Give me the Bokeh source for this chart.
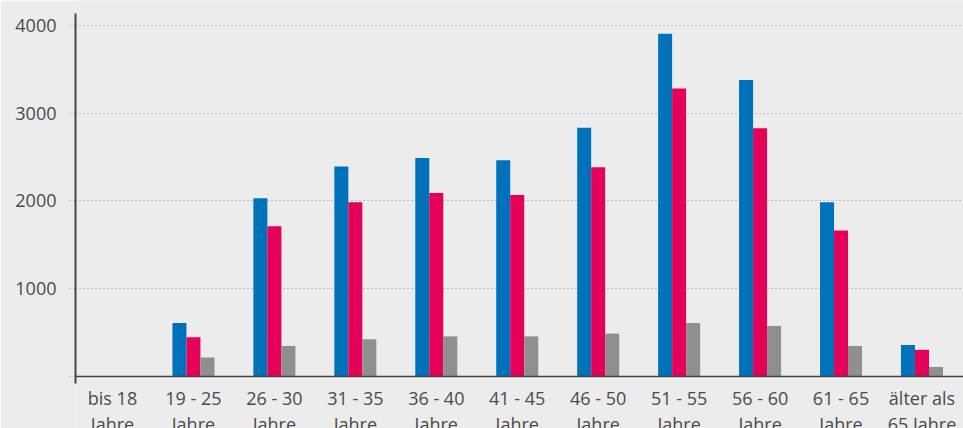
import numpy as np
from bokeh.plotting import figure
from bokeh.models import ColumnDataSource, FixedTicker, Range1d, LinearAxis
from bokeh.transform import dodge
from bokeh.embed import file_html
from bokeh.resources import INLINE

categories = ["bis 18\nJahre", "19 - 25\nJahre", "26 - 30\nJahre", "31 - 35\nJahre",
              "36 - 40\nJahre", "41 - 45\nJahre", "46 - 50\nJahre", "51 - 55\nJahre",
              "56 - 60\nJahre", "61 - 65\nJahre", "älter als\n65 Jahre"]
series_blue = [0, 609, 2030, 2393, 2487, 2463, 2833, 3902, 3378, 1985, 359]
series_pink = [0, 446, 1710, 1985, 2090, 2067, 2382, 3280, 2826, 1664, 304]
series_gray = [0, 217, 348, 424, 457, 457, 489, 609, 576, 348, 109]
y_ticks = [0, 1000, 2000, 3000, 4000]
y_tick_labels = ["", "1000", "2000", "3000", "4000"]

BG = "#ececec"
TXT = "#4a4a4a"
GRID = "#8f8f8f"
BAR_W = 0.173

idx = list(range(len(categories)))
src = ColumnDataSource(dict(x=idx, blue=series_blue, pink=series_pink, gray=series_gray))

p = figure(width=963, height=428, output_backend="svg", toolbar_location=None,
           x_range=Range1d(-0.457, 10.513), y_range=Range1d(-592, 4282),
           x_axis_location=None, y_axis_location=None,
           min_border_left=75, min_border_right=0, min_border_top=0, min_border_bottom=0)
p.background_fill_color = BG
p.border_fill_color = BG
p.outline_line_color = None

p.vbar(x=dodge("x", -BAR_W, range=p.x_range), top="blue", width=BAR_W, source=src,
       fill_color="#0072bc", line_color=None)
p.vbar(x=dodge("x", 0, range=p.x_range), top="pink", width=BAR_W, source=src,
       fill_color="#e5005a", line_color=None)
p.vbar(x=dodge("x", BAR_W, range=p.x_range), top="gray", width=BAR_W, source=src,
       fill_color="#8f8f8f", line_color=None)

yaxis = LinearAxis(bounds=(-80, 4134))
yaxis.ticker = FixedTicker(ticks=y_ticks)
yaxis.major_label_overrides = {t: l for t, l in zip(y_ticks, y_tick_labels)}
yaxis.axis_line_color = "#444444"
yaxis.axis_line_width = 2
yaxis.major_tick_out = 6
yaxis.major_tick_in = 0
yaxis.major_tick_line_color = GRID
yaxis.major_tick_line_dash = "1 3"
yaxis.minor_tick_line_color = None
yaxis.major_label_standoff = 13
yaxis.major_label_text_font = "Open Sans"
yaxis.major_label_text_font_size = "18px"
yaxis.major_label_text_color = TXT
p.add_layout(yaxis, "left")

xaxis = LinearAxis(fixed_location=0)
xaxis.ticker = FixedTicker(ticks=idx)
xaxis.major_label_overrides = {i: c for i, c in zip(idx, categories)}
xaxis.axis_line_color = "#444444"
xaxis.axis_line_width = 1.5
xaxis.major_tick_line_color = None
xaxis.minor_tick_line_color = None
xaxis.major_tick_out = 0
xaxis.major_tick_in = 0
xaxis.major_label_standoff = 9
xaxis.major_label_text_font = "Open Sans"
xaxis.major_label_text_font_size = "18px"
xaxis.major_label_text_color = TXT
xaxis.major_label_text_line_height = 1.1
p.add_layout(xaxis, "below")

p.ygrid.ticker = FixedTicker(ticks=y_ticks[1:])
p.ygrid.grid_line_color = GRID
p.ygrid.grid_line_dash = "1 3"
p.xgrid.grid_line_color = None

open("out.html", "w").write(file_html(p, INLINE))
